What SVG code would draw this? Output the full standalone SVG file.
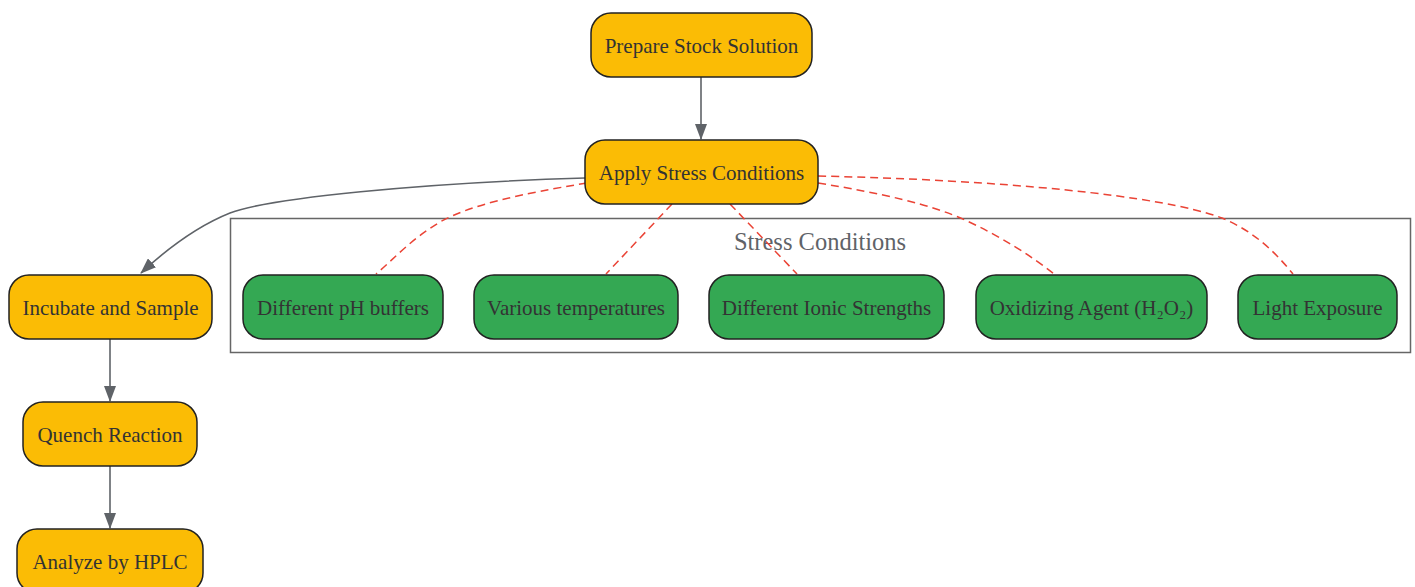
<svg xmlns="http://www.w3.org/2000/svg" width="1415" height="587" viewBox="0 0 1415 587">
<style>
.n rect{stroke:#222;stroke-width:1.5}
.y rect{fill:#FBBC05}
.g rect{fill:#34A853}
text{font-family:"Liberation Serif","Times New Roman",serif;font-size:21px;fill:#333;text-anchor:middle;dominant-baseline:central}
.e{fill:none;stroke:#5f6368;stroke-width:1.6}
.d{fill:none;stroke:#EA4335;stroke-width:1.5;stroke-dasharray:8,5}
</style>
<defs>
<marker id="a" viewBox="0 0 16 12" refX="15" refY="6" markerWidth="16" markerHeight="12" markerUnits="userSpaceOnUse" orient="auto">
<path d="M0,0 L16,6 L0,12 z" fill="#5f6368"/>
</marker>
</defs>
<g id="cluster">
<rect x="230.5" y="218.5" width="1180" height="134" fill="none" stroke="#666" stroke-width="1.5"/>
<text x="820" y="241" style="font-size:24.5px;fill:#5f6368">Stress Conditions</text>
</g>
<g id="connectors">
<path class="e" d="M701,77 L701,139" marker-end="url(#a)"/>
<path class="e" d="M585,178 C420,183 270,198 230,213 C200,225 168,248 141,273" marker-end="url(#a)"/>
<path class="e" d="M110,339 L110,401" marker-end="url(#a)"/>
<path class="e" d="M110,466 L110,528" marker-end="url(#a)"/>
<path class="d" d="M587,183 C520,194 470,205 440,222 C410,240 395,258 376,274"/>
<path class="d" d="M672,204 L606,274"/>
<path class="d" d="M730,204 L797,274"/>
<path class="d" d="M818,183 C880,193 930,204 965,220 C1000,236 1030,255 1054,274"/>
<path class="d" d="M818,176 C1000,180 1160,195 1222,218 C1255,232 1275,252 1293,274"/>
</g>
<g id="prepare" class="n y"><rect x="591" y="13" width="221" height="64" rx="20"/><text x="701.5" y="46">Prepare Stock Solution</text></g>
<g id="apply" class="n y"><rect x="585" y="140" width="233" height="64" rx="20"/><text x="701.5" y="173">Apply Stress Conditions</text></g>
<g id="incubate" class="n y"><rect x="9" y="275" width="203" height="64" rx="20"/><text x="110.5" y="308">Incubate and Sample</text></g>
<g id="quench" class="n y"><rect x="23" y="402" width="174" height="64" rx="20"/><text x="110" y="435">Quench Reaction</text></g>
<g id="analyze" class="n y"><rect x="17" y="529" width="186" height="64" rx="20"/><text x="110" y="562">Analyze by HPLC</text></g>
<g id="ph" class="n g"><rect x="243" y="275" width="200" height="64" rx="20"/><text x="343" y="308">Different pH buffers</text></g>
<g id="temp" class="n g"><rect x="474" y="275" width="204" height="64" rx="20"/><text x="576" y="308">Various temperatures</text></g>
<g id="ionic" class="n g"><rect x="709" y="275" width="235" height="64" rx="20"/><text x="826.5" y="308">Different Ionic Strengths</text></g>
<g id="oxid" class="n g"><rect x="976" y="275" width="231" height="64" rx="20"/><text x="1091.5" y="308">Oxidizing Agent (H₂O₂)</text></g>
<g id="light" class="n g"><rect x="1238" y="275" width="159" height="64" rx="20"/><text x="1317.5" y="308">Light Exposure</text></g>
</svg>
